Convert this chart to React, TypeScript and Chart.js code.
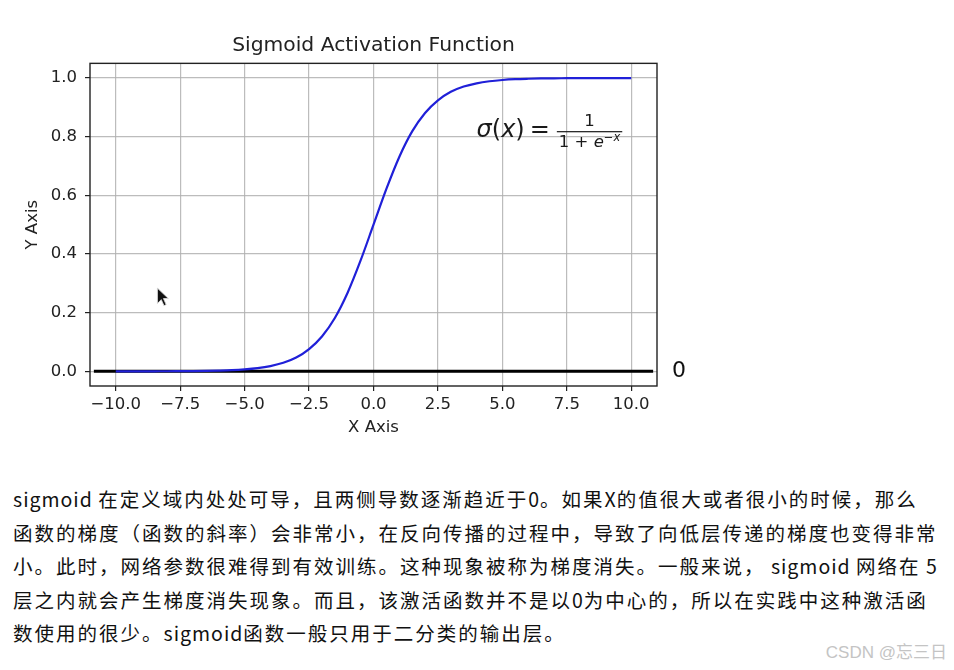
import React, { useEffect, useRef } from "react";
import { Chart, registerables } from "chart.js";

Chart.register(...registerables);

// ---- data ----
const xValues = [
  -10, -9.5, -9, -8.5, -8, -7.5, -7, -6.5, -6, -5.5, -5, -4.5, -4, -3.5, -3, -2.5, -2, -1.5, -1, -0.5,
  0, 0.5, 1, 1.5, 2, 2.5, 3, 3.5, 4, 4.5, 5, 5.5, 6, 6.5, 7, 7.5, 8, 8.5, 9, 9.5, 10,
];
const sigmoidValues = [
  0.0, 0.0001, 0.0001, 0.0002, 0.0003, 0.0006, 0.0009, 0.0015, 0.0025, 0.004, 0.0067, 0.011, 0.018, 0.029,
  0.047, 0.076, 0.119, 0.182, 0.269, 0.378, 0.5, 0.622, 0.731, 0.818, 0.881, 0.924, 0.953, 0.971, 0.982,
  0.989, 0.9933, 0.996, 0.9975, 0.9985, 0.9991, 0.9994, 0.9997, 0.9998, 0.9999, 0.9999, 1.0,
];
const zeroLineX = [-10.85, 10.85];
const zeroLineY = [0, 0];
const xTicks = [-10, -7.5, -5, -2.5, 0, 2.5, 5, 7.5, 10];
const yTicks = [0, 0.2, 0.4, 0.6, 0.8, 1.0];
const chartTitle = "Sigmoid Activation Function";
const xLabel = "X Axis";
const yLabel = "Y Axis";
const zeroLabel = "0";
const paragraphLines = [
  "sigmoid 在定义域内处处可导，且两侧导数逐渐趋近于0。如果X的值很大或者很小的时候，那么",
  "函数的梯度（函数的斜率）会非常小，在反向传播的过程中，导致了向低层传递的梯度也变得非常",
  "小。此时，网络参数很难得到有效训练。这种现象被称为梯度消失。一般来说， sigmoid 网络在 5",
  "层之内就会产生梯度消失现象。而且，该激活函数并不是以0为中心的，所以在实践中这种激活函",
  "数使用的很少。sigmoid函数一般只用于二分类的输出层。",
];
const watermark = "CSDN @忘三日";

// formula anchor (data coordinates)
const FORMULA_X = 4.0;
const FORMULA_Y = 0.8;

const fmt = (v: number) => v.toFixed(1).replace("-", "\u2212");
const MPL = '"DejaVu Sans"';

const drawFormula = (ctx: CanvasRenderingContext2D, x0: number, yb: number) => {
  let x = x0;
  ctx.textBaseline = "alphabetic";
  ctx.textAlign = "left";
  const put = (t: string, font: string, dy = 0) => {
    ctx.font = font;
    ctx.fillText(t, x, yb + dy);
    x += ctx.measureText(t).width;
  };
  const big = `24px ${MPL}`;
  const bigI = `italic 24px ${MPL}`;
  put("\u03c3", bigI);
  put("(", big);
  put("x", bigI);
  put(")", big);
  x += 5;
  put("=", big);
  x += 6;
  // fraction
  const small = `16.5px ${MPL}`;
  const smallI = `italic 16.5px ${MPL}`;
  const sup = `11.5px ${MPL}`;
  const supI = `italic 11.5px ${MPL}`;
  const w = (t: string, f: string) => {
    ctx.font = f;
    return ctx.measureText(t).width;
  };
  const denW = w("1", small) + w(" + ", small) + w("e", smallI) + w("\u2212", sup) + w("x", supI);
  const barL = x + 1;
  const barW = denW + 4;
  ctx.fillRect(barL, yb - 5.6, barW, 1.2);
  ctx.font = small;
  const nw = ctx.measureText("1").width;
  ctx.fillText("1", barL + barW / 2 - nw / 2, yb - 10.5);
  x = barL + 2;
  put("1", small, 10.8);
  put(" + ", small, 10.8);
  put("e", smallI, 10.8);
  put("\u2212", sup, 4.8);
  put("x", supI, 4.8);
};

const framePlugin = {
  id: "mplFrame",
  afterDraw(chart: any) {
    const { ctx, chartArea: a, scales } = chart;
    ctx.save();
    ctx.strokeStyle = "#222";
    ctx.lineWidth = 1.4;
    ctx.strokeRect(a.left, a.top, a.right - a.left, a.bottom - a.top);
    ctx.fillStyle = "#111";
    ctx.font = `22px ${MPL}`;
    ctx.textBaseline = "middle";
    ctx.textAlign = "left";
    ctx.fillText(zeroLabel, a.right + 15, scales.y.getPixelForValue(0));
    ctx.fillStyle = "#1a1a1a";
    drawFormula(ctx, scales.x.getPixelForValue(FORMULA_X), scales.y.getPixelForValue(FORMULA_Y));
    ctx.restore();
  },
};

const renderLine = (line: string) =>
  line.split(/([A-Za-z0-9 ]+)/).map((part, i) =>
    /^[A-Za-z0-9 ]+$/.test(part) ? (
      <span key={i} style={{ letterSpacing: 1 }}>
        {part}
      </span>
    ) : (
      <span key={i}>{part}</span>
    )
  );

export default function App() {
  const ref = useRef<HTMLCanvasElement>(null);
  useEffect(() => {
    if (!ref.current) return;
    const tickFont = { family: "DejaVu Sans", size: 16.5 };
    const gridOpts = {
      color: "rgba(176,176,176,0.85)",
      lineWidth: 1.2,
      tickColor: "#222",
      tickLength: 5,
      tickWidth: 1.2,
    };
    const chart = new Chart(ref.current, {
      type: "line",
      data: {
        datasets: [
          {
            label: "sigmoid",
            data: xValues.map((x, i) => ({ x, y: sigmoidValues[i] })),
            borderColor: "#2020d8",
            borderWidth: 2.2,
            pointRadius: 0,
            cubicInterpolationMode: "monotone",
            fill: false,
          },
          {
            label: "zero",
            data: zeroLineX.map((x, i) => ({ x, y: zeroLineY[i] })),
            borderColor: "#000",
            borderWidth: 3,
            pointRadius: 0,
            fill: false,
          },
        ],
      },
      options: {
        animation: false,
        responsive: false,
        devicePixelRatio: 1,
        layout: { padding: { left: 10, right: 297, top: 0, bottom: 4 } },
        plugins: {
          legend: { display: false },
          tooltip: { enabled: false },
          title: {
            display: true,
            text: chartTitle,
            fullSize: false,
            color: "#222",
            font: { family: "DejaVu Sans", size: 20.3, weight: "normal" },
            padding: { top: 34, bottom: 5 },
          },
        },
        scales: {
          x: {
            type: "linear",
            min: -11,
            max: 11,
            afterBuildTicks: (s: any) => {
              s.ticks = xTicks.map((v) => ({ value: v }));
            },
            afterFit: (s: any) => {
              s.height = 55;
            },
            ticks: {
              callback: (v: any) => fmt(Number(v)),
              color: "#222",
              font: tickFont,
              padding: 4,
              maxRotation: 0,
              autoSkip: false,
            },
            grid: gridOpts,
            border: { display: false },
            title: {
              display: true,
              text: xLabel,
              color: "#222",
              font: tickFont,
              padding: { top: 0, bottom: 3.5 },
            },
          },
          y: {
            type: "linear",
            min: -0.05,
            max: 1.05,
            afterBuildTicks: (s: any) => {
              s.ticks = yTicks.map((v) => ({ value: v }));
            },
            afterFit: (s: any) => {
              s.width = 80;
            },
            ticks: {
              callback: (v: any) => fmt(Number(v)),
              color: "#222",
              font: tickFont,
              padding: 8,
              autoSkip: false,
            },
            grid: gridOpts,
            border: { display: false },
            title: {
              display: true,
              text: yLabel,
              color: "#222",
              font: tickFont,
              padding: { top: 12.5, bottom: 0 },
            },
          },
        },
      },
      plugins: [framePlugin],
    } as any);
    return () => chart.destroy();
  }, []);

  return (
    <div
      style={{
        position: "absolute",
        left: 0,
        top: 0,
        width: 954,
        height: 670,
        background: "#fff",
        overflow: "hidden",
      }}
    >
      <canvas
        ref={ref}
        width={954}
        height={445}
        style={{ position: "absolute", left: 0, top: 0, width: 954, height: 445, display: "block" }}
      />
      <svg
        width={16}
        height={22}
        style={{ position: "absolute", left: 156, top: 287 }}
        viewBox="0 0 14 20"
      >
        <polygon
          points="1,1 1,15 4.5,11.5 7,17 9,16 6.5,10.5 11,10.5"
          fill="#111"
          stroke="#ddd"
          strokeWidth={0.8}
        />
      </svg>
      <div
        style={{
          position: "absolute",
          left: 13,
          top: 482,
          fontFamily: '"Noto Sans CJK SC", "Noto Sans", sans-serif',
          fontSize: 19.5,
          letterSpacing: 2,
          lineHeight: "33.6px",
          color: "#111",
          whiteSpace: "nowrap",
        }}
      >
        {paragraphLines.map((l, i) => (
          <div key={i}>{renderLine(l)}</div>
        ))}
      </div>
      <div
        style={{
          position: "absolute",
          right: 7,
          top: 641,
          fontFamily: '"Liberation Sans", "Noto Sans CJK SC", sans-serif',
          fontSize: 17,
          color: "#c4c4c4",
          whiteSpace: "nowrap",
          lineHeight: "24px",
        }}
      >
        {watermark}
      </div>
    </div>
  );
}
